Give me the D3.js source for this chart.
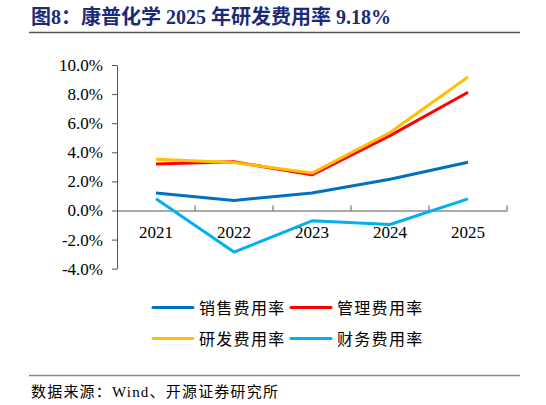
<!DOCTYPE html>
<html><head><meta charset="utf-8">
<script src="https://cdn.jsdelivr.net/npm/d3@7"></script>
<style>body{margin:0;background:#fff}svg{display:block}</style>
</head><body>
<svg id="c" width="546" height="405"></svg>
<script>
const years = ["2021","2022","2023","2024","2025"];
const seriesNames = ["销售费用率","管理费用率","研发费用率","财务费用率"];
const sales = [1.2, 0.69, 1.2, 2.15, 3.32];
const admin = [3.2, 3.35, 2.45, 5.15, 8.13];
const rd = [3.53, 3.3, 2.57, 5.36, 9.18];
const fin = [0.8, -2.86, -0.71, -0.96, 0.8];
const colors = ["#0070C0","#FF0000","#FFC000","#00B0F0"];
const yTicks = [-4,-2,0,2,4,6,8,10];

const svg = d3.select("#c");
const serif = "'Liberation Serif','Times New Roman','Noto Sans CJK SC',serif";
const cjk = "'Noto Sans CJK SC',sans-serif";

// title
svg.append("text").attr("x",31).attr("y",24).attr("fill","#1c2a78")
  .attr("font-family",serif).attr("font-weight","bold").attr("font-size",20)
  .text("图8：康普化学 2025 年研发费用率 9.18%");
svg.append("line").attr("x1",29).attr("x2",520).attr("y1",32.5).attr("y2",32.5)
  .attr("stroke","#555").attr("stroke-width",1.5);

const x = d3.scaleBand().domain(years).range([117,507]);
const y = d3.scaleLinear().domain([-4,10]).range([268.7,65]);

const gy = svg.append("g").attr("transform","translate(117,0)")
  .call(d3.axisLeft(y).tickValues(yTicks).tickSize(5).tickSizeOuter(0).tickFormat(d=>d.toFixed(1)+"%"));
gy.select(".domain").attr("stroke","#555");
gy.selectAll(".tick line").attr("stroke","#555");
gy.selectAll("text").attr("font-family",serif).attr("font-size",17).attr("fill","#000").attr("x",-14);

const gx = svg.append("g").attr("transform",`translate(0,${y(0)})`)
  .call(d3.axisBottom(x).tickSize(0).tickSizeOuter(0));
gx.select(".domain").attr("stroke","#555");
gx.selectAll("text").attr("font-family",serif).attr("font-size",17).attr("fill","#000").attr("dy","1.45em");
// boundary ticks
const bounds = years.map(d=>x(d)+x.bandwidth()).concat([]);
svg.append("g").selectAll("line").data(bounds).join("line")
  .attr("x1",d=>d).attr("x2",d=>d).attr("y1",y(0)).attr("y2",y(0)-5)
  .attr("stroke","#555");

const line = d3.line().x((d,i)=>x(years[i])+x.bandwidth()/2).y(d=>y(d));
const data = [sales, admin, rd, fin];
data.forEach((s,i)=>{
  svg.append("path").datum(s).attr("d",line).attr("fill","none")
    .attr("stroke",colors[i]).attr("stroke-width",3).attr("stroke-linejoin","round");
});

// legend
const lx = [153, 291], ly = [307.5, 338.5];
seriesNames.forEach((n,i)=>{
  const cx = lx[i%2], cy = ly[Math.floor(i/2)];
  svg.append("line").attr("x1",cx).attr("x2",cx+40).attr("y1",cy).attr("y2",cy)
    .attr("stroke",colors[i]).attr("stroke-width",3).attr("stroke-linecap","round");
  svg.append("text").attr("x",cx+46).attr("y",cy+6).attr("font-family",cjk).attr("font-size",16)
    .attr("letter-spacing","1.3px").attr("fill","#000").text(n);
});

// footer
svg.append("line").attr("x1",29).attr("x2",520).attr("y1",375.5).attr("y2",375.5)
  .attr("stroke","#888").attr("stroke-width",1.5);
svg.append("text").attr("x",31).attr("y",397).attr("font-family",serif).attr("font-size",15)
  .attr("letter-spacing","1.2px").attr("fill","#000").text("数据来源：Wind、开源证券研究所");
</script>
</body></html>
